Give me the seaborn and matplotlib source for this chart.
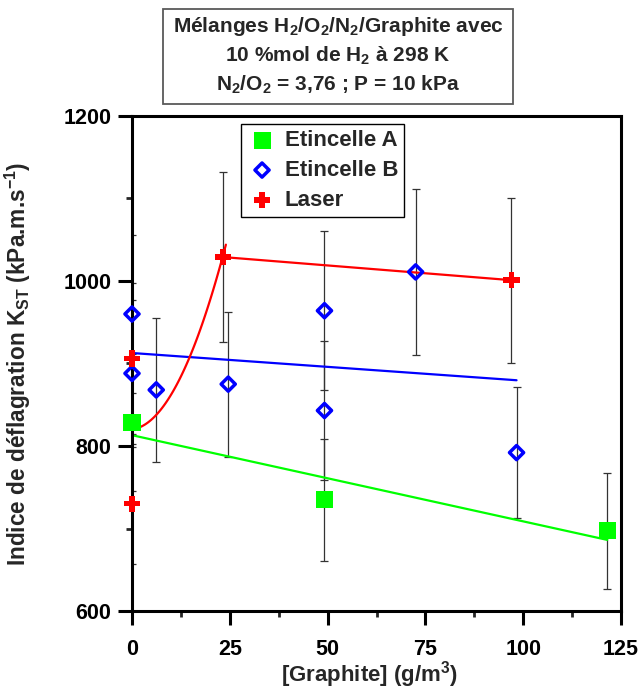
import numpy as np
import matplotlib
matplotlib.use('Agg')
import matplotlib.pyplot as plt
from matplotlib.patches import Rectangle
from matplotlib.ticker import MultipleLocator
import seaborn as sns

# Etincelle A (green squares)
spark_a_x = [0, 49.2, 121.5]
spark_a_y = [829, 735, 697]
spark_a_err = [83, 74, 70]

# Etincelle B (blue diamonds)
spark_b_x = [0, 0, 6.2, 24.6, 49.2, 49.2, 72.5, 98.3]
spark_b_y = [960, 888, 868, 875, 964, 843, 1011, 792]
spark_b_err = [96, 89, 87, 88, 96, 84, 101, 79]

# Laser (red crosses)
laser_x = [0, 0, 23.3, 97.0]
laser_y = [906, 730, 1029, 1001]
laser_err = [91, 73, 103, 100]

# red curved trend
laser_curve_x = [0, 6.2, 14.8, 19.5, 23.3, 24.0]
laser_curve_y = [820, 838, 909, 968, 1036, 1041]

x_ticks = [0, 25, 50, 75, 100, 125]
y_ticks = [600, 800, 1000, 1200]

title_lines = ['Mélanges H$_2$/O$_2$/N$_2$/Graphite avec',
               '10 %mol de H$_2$ à 298 K',
               'N$_2$/O$_2$ = 3,76 ; P = 10 kPa']

GREEN = '#00ff00'
BLUE = '#0000ff'
RED = '#ff0000'

sns.set_style('white')
plt.rcParams['font.family'] = ['Liberation Sans', 'DejaVu Sans']
plt.rcParams['font.weight'] = 'bold'
plt.rcParams['axes.labelweight'] = 'bold'
plt.rcParams['mathtext.fontset'] = 'custom'
plt.rcParams['mathtext.rm'] = 'Liberation Sans:bold'
plt.rcParams['mathtext.bf'] = 'Liberation Sans:bold'
plt.rcParams['mathtext.it'] = 'Liberation Sans:bold'
plt.rcParams['mathtext.default'] = 'bf'

W, H = 642, 691
fig = plt.figure(figsize=(W / 100, H / 100), dpi=100)
ax = fig.add_axes([132 / W, 1 - 611 / H, (621 - 132) / W, (611 - 116) / H])

# error bars
for xs, ys, es in [(spark_a_x, spark_a_y, spark_a_err),
                   (spark_b_x, spark_b_y, spark_b_err),
                   (laser_x, laser_y, laser_err)]:
    ax.errorbar(xs, ys, yerr=es, fmt='none', ecolor='0.2', elinewidth=0.9,
                capsize=3, capthick=0.9, zorder=1)

# trend lines
fit_a = np.polyfit(spark_a_x, spark_a_y, 1)
xa = np.array([min(spark_a_x), max(spark_a_x)])
sns.lineplot(x=xa, y=np.polyval(fit_a, xa), color=GREEN, lw=1.6, ax=ax, zorder=2)

fit_b = np.polyfit(spark_b_x, spark_b_y, 1)
xb = np.array([min(spark_b_x), max(spark_b_x)])
sns.lineplot(x=xb, y=np.polyval(fit_b, xb), color=BLUE, lw=1.6, ax=ax, zorder=2)

sns.lineplot(x=laser_x[2:], y=laser_y[2:], color=RED, lw=1.6, ax=ax, zorder=2)

fit_c = np.polyfit(laser_curve_x, laser_curve_y, 2)
xc = np.linspace(laser_curve_x[0], laser_curve_x[-1], 60)
sns.lineplot(x=xc, y=np.polyval(fit_c, xc), color=RED, lw=1.6, ax=ax, zorder=2)

# markers
sns.scatterplot(x=spark_a_x, y=spark_a_y, marker='s', s=150, color=GREEN,
                edgecolor='none', linewidth=0, ax=ax, zorder=6, clip_on=False,
                label='Etincelle A')
sns.scatterplot(x=spark_b_x, y=spark_b_y, marker='D', s=52, facecolor='none',
                edgecolor=BLUE, linewidth=2.5, ax=ax, zorder=6, clip_on=False,
                label='Etincelle B')
sns.scatterplot(x=laser_x, y=laser_y, marker='P', s=140, color=RED,
                edgecolor='none', linewidth=0, ax=ax, zorder=6, clip_on=False,
                label='Laser')

ax.set_xlim(0, 125)
ax.set_ylim(600, 1200)
ax.set_xticks(x_ticks)
ax.set_yticks(y_ticks)
ax.xaxis.set_minor_locator(MultipleLocator(12.5))
ax.yaxis.set_minor_locator(MultipleLocator(100))

for s in ax.spines.values():
    s.set_linewidth(2.2)
    s.set_color('black')
    s.set_zorder(4)

ax.tick_params(axis='both', which='major', direction='out', length=10, width=2.2,
               labelsize=15.5, color='black', labelcolor='black')
ax.tick_params(axis='both', which='minor', direction='out', length=4.5, width=2)
ax.tick_params(axis='x', which='major', pad=10)
ax.tick_params(axis='y', which='major', pad=5)
ax.tick_params(bottom=True, left=True, top=False, right=False,
               which='both')
for lab in ax.get_xticklabels() + ax.get_yticklabels():
    lab.set_fontweight('bold')

ax.set_xlabel('[Graphite] (g/m$^3$)', fontsize=16, fontweight='bold')
ax.set_ylabel('Indice de déflagration K$_{ST}$ (kPa.m.s$^{-1}$)', fontsize=16.3,
              fontweight='bold')
ax.xaxis.set_label_coords((370 - 132) / 489, -0.097)
ax.yaxis.set_label_coords(-0.203, 0.5)

leg = ax.legend(loc='upper left', bbox_to_anchor=((240.7 - 132) / 489, (611 - 124) / 495),
                fontsize=16, frameon=True, fancybox=False, framealpha=1,
                edgecolor='black', borderpad=0.27, labelspacing=0.4,
                handlelength=1.38, handletextpad=0.33, borderaxespad=0)
leg.get_frame().set_linewidth(1.0)
for t in leg.get_texts():
    t.set_fontweight('bold')

# title box
fig.patches.append(Rectangle((163 / W, 1 - 104 / H), (513 - 163) / W, (104 - 9) / H,
                             transform=fig.transFigure, fill=False,
                             edgecolor='0.35', linewidth=1.3))
for line, yc in zip(title_lines, [26, 56, 85]):
    fig.text(338 / W, 1 - yc / H, line, ha='center', va='center',
             fontsize=15, fontweight='bold')

plt.savefig('out.png', dpi=100)
